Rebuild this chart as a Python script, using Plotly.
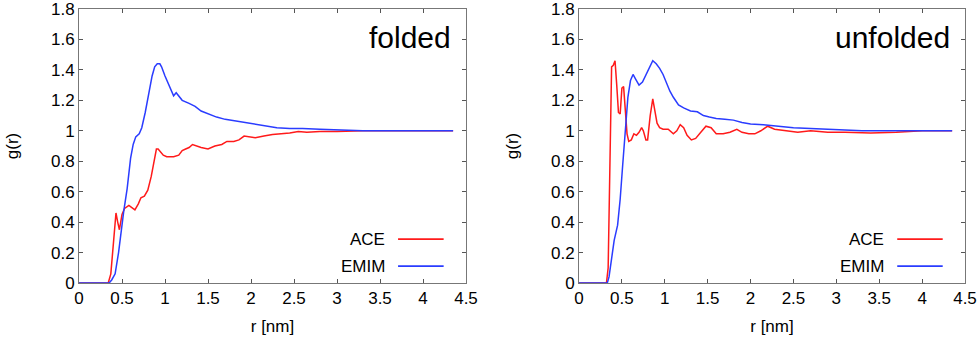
import plotly.graph_objects as go
from plotly.subplots import make_subplots

# folded: ACE (red) and EMIM (blue) radial distribution functions
fold_ace_r = [0, 0.34, 0.37, 0.40, 0.43, 0.45, 0.47, 0.50, 0.53, 0.58, 0.62, 0.65, 0.69, 0.72, 0.76,
              0.80, 0.84, 0.87, 0.90, 0.92, 0.95, 0.98, 1.02, 1.10, 1.16, 1.20, 1.24, 1.28, 1.32, 1.36,
              1.42, 1.50, 1.58, 1.66, 1.72, 1.80, 1.86, 1.92, 1.98, 2.05, 2.15, 2.25, 2.35, 2.45,
              2.55, 2.65, 2.80, 3.00, 3.30, 3.60, 4.00, 4.35]
fold_ace_g = [0, 0, 0.06, 0.25, 0.46, 0.40, 0.35, 0.45, 0.49, 0.51, 0.49, 0.48, 0.52, 0.56, 0.57,
              0.61, 0.70, 0.80, 0.88, 0.88, 0.86, 0.84, 0.83, 0.83, 0.84, 0.87, 0.88, 0.89, 0.91, 0.90,
              0.89, 0.88, 0.90, 0.91, 0.93, 0.93, 0.94, 0.965, 0.96, 0.955, 0.965, 0.975, 0.98, 0.985,
              0.995, 0.99, 0.995, 0.995, 1.0, 1.0, 1.0, 1.0]
fold_emim_r = [0, 0.35, 0.38, 0.42, 0.46, 0.49, 0.52, 0.56, 0.60, 0.63, 0.66, 0.70, 0.73, 0.77,
               0.81, 0.85, 0.88, 0.91, 0.94, 0.96, 1.00, 1.04, 1.08, 1.10, 1.13, 1.16, 1.20, 1.28,
               1.35, 1.42, 1.50, 1.60, 1.70, 1.80, 1.90, 2.00, 2.10, 2.20, 2.30, 2.45, 2.60, 2.80,
               3.00, 3.30, 3.60, 4.00, 4.35]
fold_emim_g = [0, 0, 0.02, 0.06, 0.20, 0.35, 0.47, 0.62, 0.82, 0.91, 0.96, 0.98, 1.02, 1.12,
               1.25, 1.36, 1.42, 1.44, 1.44, 1.42, 1.36, 1.31, 1.26, 1.23, 1.25, 1.23, 1.20, 1.18,
               1.16, 1.13, 1.11, 1.09, 1.075, 1.065, 1.055, 1.045, 1.035, 1.025, 1.02, 1.015, 1.015, 1.01,
               1.005, 1.0, 1.0, 1.0, 1.0]

# unfolded
unf_ace_r = [0, 0.32, 0.34, 0.36, 0.38, 0.40, 0.42, 0.44, 0.46, 0.48, 0.50, 0.52, 0.54, 0.56,
             0.58, 0.61, 0.64, 0.67, 0.70, 0.73, 0.75, 0.78, 0.80, 0.83, 0.86, 0.88, 0.91, 0.94,
             0.98, 1.04, 1.10, 1.14, 1.18, 1.22, 1.26, 1.31, 1.36, 1.42, 1.48, 1.54, 1.60, 1.68,
             1.76, 1.84, 1.90, 1.98, 2.05, 2.12, 2.20, 2.28, 2.40, 2.55, 2.70, 2.90, 3.10, 3.40,
             3.70, 4.00, 4.35]
unf_ace_g = [0, 0, 0.10, 0.70, 1.42, 1.43, 1.46, 1.30, 1.12, 1.11, 1.28, 1.29, 1.12, 0.98,
             0.93, 0.94, 0.98, 0.97, 0.99, 1.02, 1.00, 0.94, 0.94, 1.10, 1.21, 1.15, 1.05, 1.02,
             1.01, 1.01, 0.98, 1.00, 1.04, 1.02, 0.97, 0.94, 0.95, 0.99, 1.03, 1.02, 0.98, 0.98,
             0.99, 1.01, 0.99, 0.98, 0.98, 1.00, 1.03, 1.01, 1.00, 0.99, 1.0, 0.99, 0.99, 0.985,
             0.99, 1.0, 1.0]
unf_emim_r = [0, 0.33, 0.35, 0.38, 0.41, 0.45, 0.48, 0.51, 0.54, 0.57, 0.60, 0.63, 0.66, 0.70,
              0.74, 0.78, 0.82, 0.86, 0.90, 0.94, 0.98, 1.02, 1.06, 1.10, 1.16, 1.22, 1.30, 1.38,
              1.45, 1.52, 1.60, 1.70, 1.80, 1.90, 2.00, 2.15, 2.30, 2.50, 2.70, 3.00, 3.30, 3.60,
              4.00, 4.35]
unf_emim_g = [0, 0, 0.04, 0.15, 0.28, 0.38, 0.55, 0.78, 1.02, 1.22, 1.33, 1.37, 1.34, 1.30,
              1.32, 1.37, 1.41, 1.46, 1.44, 1.41, 1.37, 1.31, 1.26, 1.22, 1.17, 1.15, 1.13, 1.125,
              1.10, 1.09, 1.08, 1.075, 1.07, 1.055, 1.045, 1.04, 1.03, 1.02, 1.015, 1.01, 1.0, 1.0,
              1.0, 1.0]

x_ticks = [0, 0.5, 1, 1.5, 2, 2.5, 3, 3.5, 4, 4.5]
x_labels = ["0", "0.5", "1", "1.5", "2", "2.5", "3", "3.5", "4", "4.5"]
y_ticks = [0, 0.2, 0.4, 0.6, 0.8, 1, 1.2, 1.4, 1.6, 1.8]
y_labels = ["0", "0.2", "0.4", "0.6", "0.8", "1", "1.2", "1.4", "1.6", "1.8"]

RED = "#ff1a1a"
BLUE = "#2a3cff"
FONT = "Liberation Sans"

fig = make_subplots(rows=1, cols=2)

panels = [
    (fold_ace_r, fold_ace_g, fold_emim_r, fold_emim_g, "folded"),
    (unf_ace_r, unf_ace_g, unf_emim_r, unf_emim_g, "unfolded"),
]
for i, (ar, ag, er, eg, label) in enumerate(panels, start=1):
    fig.add_trace(go.Scatter(x=ar, y=ag, mode="lines", line=dict(color=RED, width=1.5),
                             showlegend=False), row=1, col=i)
    fig.add_trace(go.Scatter(x=er, y=eg, mode="lines", line=dict(color=BLUE, width=1.5),
                             showlegend=False), row=1, col=i)
    xref = "x" if i == 1 else "x2"
    yref = "y" if i == 1 else "y2"
    fig.add_annotation(x=4.35, y=1.61, xref=xref, yref=yref, text=label, showarrow=False,
                       xanchor="right", yanchor="middle", font=dict(size=30, color="black", family=FONT))
    # legend drawn manually: text then sample line
    for name, col, yy in [("ACE", RED, 0.288), ("EMIM", BLUE, 0.111)]:
        fig.add_annotation(x=3.58, y=yy, xref=xref, yref=yref, text=name, showarrow=False,
                           xanchor="right", yanchor="middle", font=dict(size=17, color="black", family=FONT))
        fig.add_shape(type="line", x0=3.71, x1=4.24, y0=yy, y1=yy, xref=xref, yref=yref,
                      line=dict(color=col, width=1.6))

axis_common = dict(showgrid=False, zeroline=False, showline=True, linecolor="#777777", linewidth=1,
                   mirror="ticks", ticks="inside", ticklen=4, tickcolor="#555555",
                   ticklabeloverflow="allow", automargin=False,
                   tickfont=dict(size=17, color="black", family=FONT))
fig.update_xaxes(range=[0, 4.5], tickvals=x_ticks, ticktext=x_labels,
                 title=dict(text="r [nm]", font=dict(size=17, color="black", family=FONT), standoff=12),
                 **axis_common)
fig.update_yaxes(range=[0, 1.8], tickvals=y_ticks, ticktext=y_labels,
                 title=dict(text="g(r)", font=dict(size=17, color="black", family=FONT), standoff=28),
                 **axis_common)

fig.update_layout(
    width=980, height=337,
    margin=dict(l=0, r=0, t=0, b=0),
    paper_bgcolor="white", plot_bgcolor="white",
    xaxis=dict(domain=[79 / 980, 466 / 980]),
    xaxis2=dict(domain=[579 / 980, 965 / 980]),
    yaxis=dict(domain=[1 - 283 / 337, 1 - 9 / 337]),
    yaxis2=dict(domain=[1 - 283 / 337, 1 - 9 / 337]),
)

# drop the browser's default page margin so the figure sits at the window corner
fig.write_html("out.html", config={"displayModeBar": False},
               post_script="document.body.style.margin='0';")
